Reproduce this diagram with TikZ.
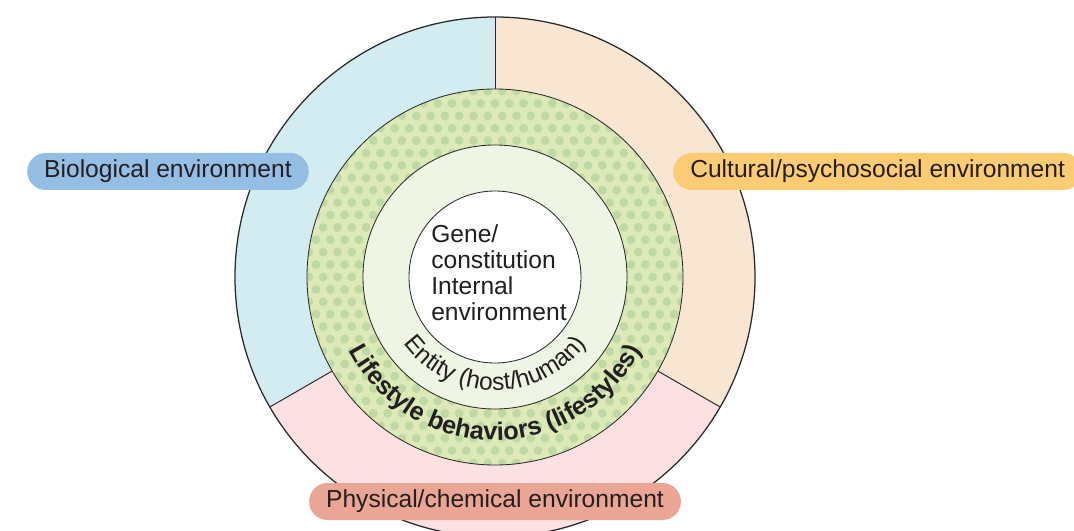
\documentclass[tikz,border=0pt]{standalone}
\usepackage{fontspec}
\setmainfont{Liberation Sans}
\usepackage{tikz}
\usepackage{xcolor}
\usetikzlibrary{positioning, decorations.text}

\definecolor{bluesec}{HTML}{D3ECF1}
\definecolor{orangesec}{HTML}{F8E6D3}
\definecolor{pinksec}{HTML}{FDE0E1}
\definecolor{greenring}{HTML}{DDE9B6}
\definecolor{greendot}{HTML}{BFD9A4}
\definecolor{lightgreen}{HTML}{EFF5E5}
\definecolor{pillblue}{HTML}{95BEE5}
\definecolor{pillorange}{HTML}{FDCB74}
\definecolor{pillsalmon}{HTML}{EAA594}
\definecolor{textgray}{HTML}{231F20}
\definecolor{linegray}{HTML}{2A2A2A}

\begin{document}
\begin{tikzpicture}[font=\fontsize{17.5}{18.5}\selectfont,
    pill/.style={rounded corners=0.46cm, inner xsep=0.425cm, inner ysep=0pt, minimum height=0.925cm, text=textgray},
    ring/.style={draw=linegray, line width=0.6pt}]
    \clip (-12.375,-6.325) rectangle (14.475,6.925);

    % three environment sectors
    \fill[bluesec] (0,0) -- (90:6.5) arc[start angle=90, end angle=210, radius=6.5] -- cycle;
    \fill[orangesec] (0,0) -- (-30:6.5) arc[start angle=-30, end angle=90, radius=6.5] -- cycle;
    \fill[pinksec] (0,0) -- (210:6.5) arc[start angle=210, end angle=330, radius=6.5] -- cycle;
    \foreach \a in {90,210,330}
        \draw[ring, line width=0.7pt] (\a:4.7) -- (\a:6.5);
    \draw[draw=linegray, line width=0.9pt] (0,0) circle (6.5);

    % dotted lifestyle ring
    \begin{scope}
        \clip (0,0) circle (4.7);
        \fill[greenring] (0,0) circle (4.7);
        \foreach \j in {-8,...,8}
            \foreach \i in {-14,...,14} {
                \fill[greendot] (\i*0.358, \j*0.62) circle (0.11);
                \fill[greendot] (\i*0.358+0.179, \j*0.62+0.31) circle (0.11);
            }
    \end{scope}
    \draw[ring] (0,0) circle (4.7);

    % host and gene circles
    \draw[ring, fill=lightgreen] (0,0) circle (3.3);
    \draw[ring, fill=white] (0,0) circle (2.15);

    \node[align=left, text=textgray] (gene) at (0.1,0.1) {Gene/\\constitution\\Internal\\environment};

    \path[decorate, decoration={text along path, text align=center, text color=textgray,
        text={|\fontsize{17.5}{20}\selectfont|Entity (host/human)}}]
        (180:2.83) arc[start angle=180, end angle=360, radius=2.83];
    \path[decorate, decoration={text along path, text align=center, text color=textgray,
        text={|\fontsize{18}{20}\selectfont\bfseries|Lifestyle behaviors (lifestyles)}}]
        (180:4.08) arc[start angle=180, end angle=360, radius=4.08];

    % labels
    \node[pill, fill=pillblue] (bio) at (-8.175,2.6375) {Biological environment};
    \node[pill, fill=pillorange, anchor=west] (cult) at (4.45,2.6375) {Cultural/psychosocial environment};
    \node[pill, fill=pillsalmon] (phys) at (0,-5.6125) {Physical/chemical environment};
\end{tikzpicture}
\end{document}
